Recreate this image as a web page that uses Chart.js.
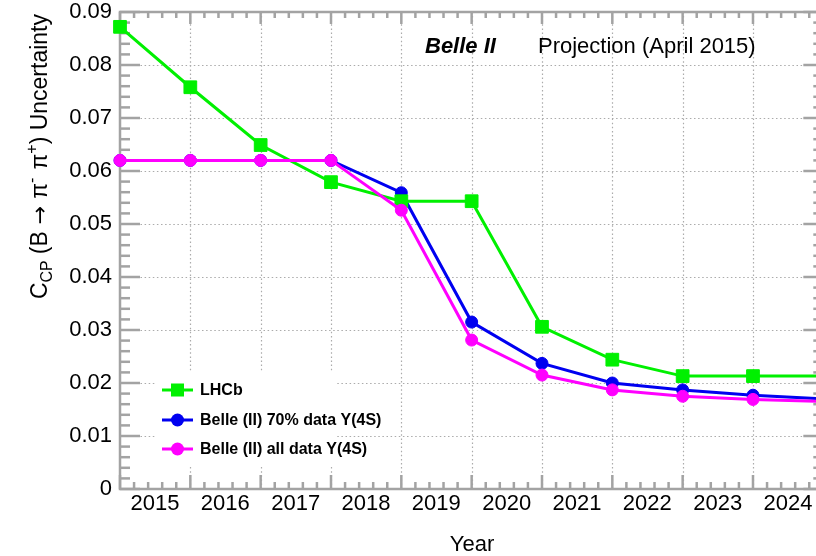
<!DOCTYPE html>
<html>
<head>
<meta charset="utf-8">
<script src="https://cdn.jsdelivr.net/npm/chart.js@4/dist/chart.umd.min.js"></script>
<style>
  html, body { margin: 0; padding: 0; background: #fff; overflow: hidden; }
  #wrap { width: 816px; height: 556px; position: relative; }
</style>
</head>
<body>
<div id="wrap"><canvas id="c" width="816" height="556"></canvas></div>
<script>
// Projected C_CP uncertainty, one value per year boundary
const years    = [2015, 2016, 2017, 2018, 2019, 2020, 2021, 2022, 2023, 2024, 2025];
const lhcb     = [0.0872, 0.0758, 0.0649, 0.0579, 0.0543, 0.0543, 0.0306, 0.0244, 0.0213, 0.0213, 0.0213];
const belle70  = [0.0620, 0.0620, 0.0620, 0.0620, 0.0559, 0.0315, 0.0237, 0.0200, 0.0187, 0.0177, 0.0170];
const belleAll = [0.0620, 0.0620, 0.0620, 0.0620, 0.0526, 0.0281, 0.0215, 0.0187, 0.0175, 0.0169, 0.0165];

// Axis ticks
const yearTicks  = [2015, 2016, 2017, 2018, 2019, 2020, 2021, 2022, 2023, 2024];
const yearLabels = ['2015', '2016', '2017', '2018', '2019', '2020', '2021', '2022', '2023', '2024'];
const yTicks     = [0, 0.01, 0.02, 0.03, 0.04, 0.05, 0.06, 0.07, 0.08, 0.09];
const yLabels    = ['0', '0.01', '0.02', '0.03', '0.04', '0.05', '0.06', '0.07', '0.08', '0.09'];

// Legend order
const seriesNames = ['LHCb', 'Belle (II) 70% data Y(4S)', 'Belle (II) all data Y(4S)'];

const FONT = "'Liberation Sans', Arial, Helvetica, sans-serif";
const FRAME = '#a3a3a3';
const GREEN = '#00f000', BLUE = '#0000f0', MAGENTA = '#ff00ff';

const toPoints = vals => years.map((yr, i) => ({ x: yr, y: vals[i] }));

function seg(ctx, x1, y1, x2, y2) {
  ctx.beginPath(); ctx.moveTo(x1, y1); ctx.lineTo(x2, y2); ctx.stroke();
}

// Frame, inward ticks and dotted grid in the ROOT style
const frameAndGrid = {
  id: 'frameAndGrid',
  beforeDatasetsDraw(chart) {
    const { ctx, chartArea: a, scales: { x, y } } = chart;
    const xEnd = x.getPixelForValue(years[years.length - 1]);
    ctx.save();
    // dotted grid
    ctx.strokeStyle = '#ababab';
    ctx.lineWidth = 1.2;
    ctx.setLineDash([1.5, 2.6]);
    yearTicks.slice(1).forEach(t => {
      const px = Math.round(x.getPixelForValue(t)) + 0.5;
      seg(ctx, px, a.top, px, a.bottom);
    });
    yTicks.slice(1).forEach(v => {
      const py = Math.round(y.getPixelForValue(v)) + 0.5;
      seg(ctx, a.left, py, xEnd, py);
    });
    ctx.setLineDash([]);

    // ticks
    ctx.strokeStyle = FRAME;
    ctx.lineWidth = 2.5;
    const x0 = years[0], x1 = years[years.length - 1];
    for (let i = 0; i <= (x1 - x0) * 5; i++) {
      const px = x.getPixelForValue(x0 + i / 5);
      const major = i % 5 === 0;
      seg(ctx, px, a.bottom, px, a.bottom - (major ? 14 : 7));
      seg(ctx, px, a.top, px, a.top + (major ? 12 : 6));
    }
    const yMax = yTicks[yTicks.length - 1];
    for (let i = 0; i <= Math.round(yMax / 0.002); i++) {
      const py = y.getPixelForValue(i * 0.002);
      const major = i % 5 === 0;
      seg(ctx, a.left, py, a.left + (major ? 20 : 10), py);
      seg(ctx, xEnd, py, xEnd - (major ? 20 : 10), py);
    }

    // frame
    ctx.lineWidth = 2.5;
    ctx.strokeRect(a.left, a.top, xEnd - a.left, a.bottom - a.top);
    ctx.restore();
  }
};

// Legend box, header text and axis titles
const annotations = {
  id: 'annotations',
  afterDatasetsDraw(chart) {
    const { ctx } = chart;
    ctx.save();
    // legend
    ctx.fillStyle = '#ffffff';
    ctx.fillRect(156, 372, 181, 93);
    const rows = [390, 420, 449];
    seriesNames.forEach((name, i) => {
      const ds = chart.data.datasets.find(d => d.label === name);
      const yy = rows[i];
      ctx.strokeStyle = ds.borderColor;
      ctx.lineWidth = 3;
      seg(ctx, 162, yy, 193, yy);
      ctx.fillStyle = ds.borderColor;
      if (ds.pointStyle === 'rect') {
        ctx.fillRect(177.5 - 6.5, yy - 6.5, 13, 13);
      } else {
        ctx.beginPath(); ctx.arc(177.5, yy, 6.5, 0, Math.PI * 2); ctx.fill();
      }
      ctx.fillStyle = '#000';
      ctx.font = 'bold 16px ' + FONT;
      ctx.textBaseline = 'middle';
      ctx.textAlign = 'left';
      ctx.fillText(ds.label, 200, yy + 1);
    });

    // header
    ctx.textBaseline = 'alphabetic';
    ctx.fillStyle = '#000';
    ctx.font = 'italic bold 22px ' + FONT;
    ctx.fillText('Belle II', 425, 53);
    ctx.font = '22px ' + FONT;
    ctx.fillText('Projection (April 2015)', 538, 53);

    // x title
    ctx.textAlign = 'center';
    ctx.fillText('Year', 472, 551);

    // y title with sub- and superscripts
    const ARROW_FONT = "'DejaVu Sans', " + FONT;
    const parts = [
      { t: 'C', s: 23, dy: 0 },
      { t: 'CP', s: 16, dy: 5, gap: 6 },
      { t: '(B', s: 23, dy: 0, gap: 7 },
      { t: '\u2192', s: 22, dy: 0, f: ARROW_FONT, gap: 7 },
      { t: '\u03c0', s: 23, dy: 0 },
      { t: '-', s: 16, dy: -10, gap: 8 },
      { t: '\u03c0', s: 23, dy: 0 },
      { t: '+', s: 16, dy: -10 },
      { t: ') Uncertainty', s: 23, dy: 0 }
    ];
    let total = 0;
    parts.forEach(p => {
      ctx.font = p.s + 'px ' + (p.f || FONT);
      p.w = ctx.measureText(p.t).width + (p.gap || 0);
      total += p.w;
    });
    ctx.translate(47, 14 + total);
    ctx.rotate(-Math.PI / 2);
    ctx.textAlign = 'left';
    let cx = 0;
    parts.forEach(p => {
      ctx.font = p.s + 'px ' + (p.f || FONT);
      ctx.fillText(p.t, cx, p.dy);
      cx += p.w;
    });
    ctx.restore();
  }
};

new Chart(document.getElementById('c'), {
  type: 'line',
  data: {
    datasets: [
      {
        label: seriesNames[2], data: toPoints(belleAll), order: 0,
        borderColor: MAGENTA, backgroundColor: MAGENTA, borderWidth: 3,
        pointStyle: 'circle', pointRadius: 6, pointBorderWidth: 1, pointBackgroundColor: MAGENTA
      },
      {
        label: seriesNames[0], data: toPoints(lhcb), order: 1,
        borderColor: GREEN, backgroundColor: GREEN, borderWidth: 3,
        pointStyle: 'rect', pointRadius: 9, pointBorderWidth: 1, pointBackgroundColor: GREEN
      },
      {
        label: seriesNames[1], data: toPoints(belle70), order: 2,
        borderColor: BLUE, backgroundColor: BLUE, borderWidth: 3,
        pointStyle: 'circle', pointRadius: 6, pointBorderWidth: 1, pointBackgroundColor: BLUE
      }
    ]
  },
  options: {
    responsive: false,
    animation: false,
    clip: false,
    layout: { autoPadding: false, padding: { top: 12, right: 0, left: 0, bottom: 0 } },
    plugins: { legend: { display: false }, tooltip: { enabled: false }, title: { display: false } },
    datasets: { line: { clip: false, tension: 0 } },
    scales: {
      x: {
        type: 'linear',
        min: years[0],
        max: 2024.896,
        grid: { display: false, drawTicks: false },
        border: { display: false },
        afterBuildTicks: s => { s.ticks = yearTicks.map(v => ({ value: v })); },
        afterFit: s => { s.height = 67; s.paddingLeft = 0; s.paddingRight = 0; },
        ticks: {
          autoSkip: false, maxRotation: 0, minRotation: 0,
          padding: 2, labelOffset: 35,
          color: '#000', font: { family: FONT, size: 22 },
          callback: (v) => yearLabels[yearTicks.indexOf(v)] ?? ''
        }
      },
      y: {
        min: yTicks[0],
        max: yTicks[yTicks.length - 1],
        grid: { display: false, drawTicks: false },
        border: { display: false },
        afterBuildTicks: s => { s.ticks = yTicks.map(v => ({ value: v })); },
        afterFit: s => { s.width = 120; s.paddingTop = 0; s.paddingBottom = 0; },
        ticks: {
          padding: 8,
          color: '#000', font: { family: FONT, size: 22 },
          callback: (v) => {
            const i = yTicks.findIndex(t => Math.abs(t - v) < 1e-9);
            return i >= 0 ? yLabels[i] : '';
          }
        }
      }
    }
  },
  plugins: [frameAndGrid, annotations]
});
</script>
</body>
</html>
